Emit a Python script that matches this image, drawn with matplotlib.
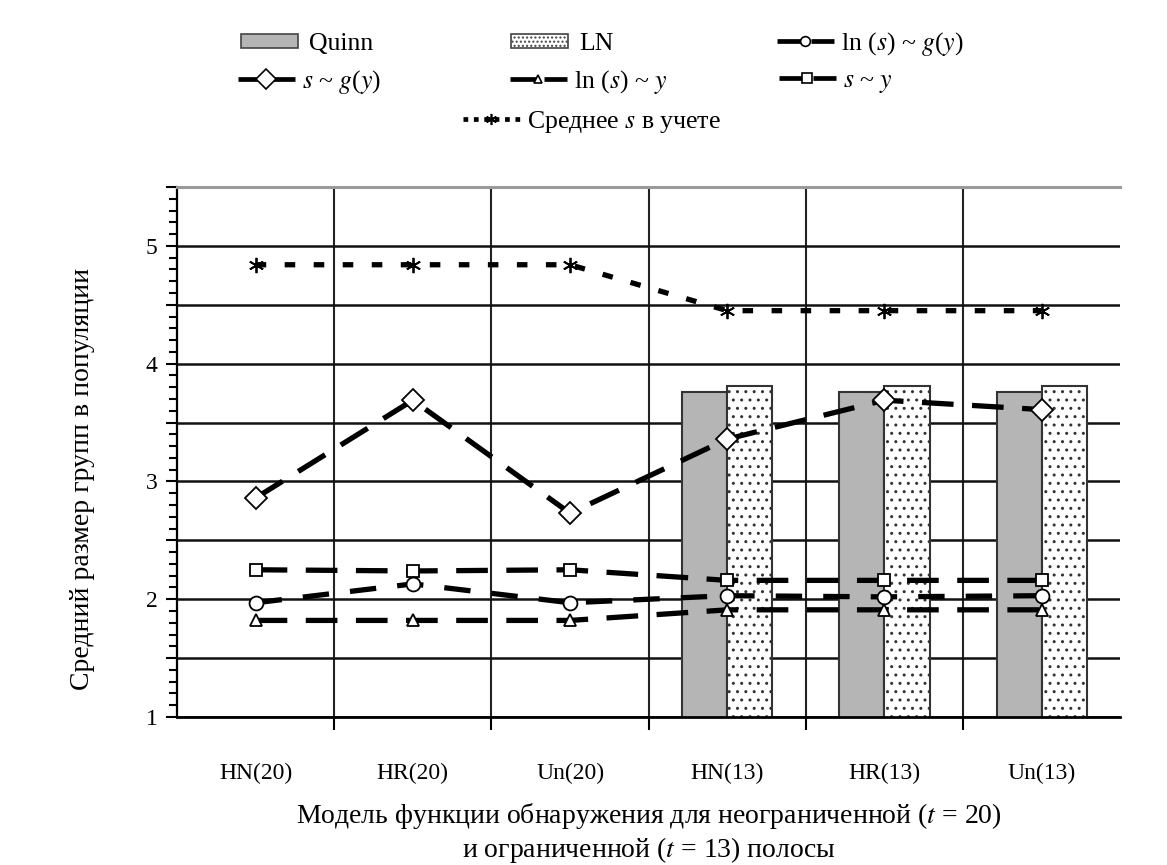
import numpy as np
import matplotlib
matplotlib.use("Agg")
import matplotlib.pyplot as plt
from matplotlib.patches import Patch
from matplotlib.lines import Line2D
from matplotlib.ticker import MultipleLocator, FuncFormatter, FixedLocator

plt.rcParams['font.family'] = ['Liberation Serif', 'DejaVu Serif']
plt.rcParams['mathtext.fontset'] = 'stix'
plt.rcParams['hatch.linewidth'] = 1.0
plt.rcParams['hatch.color'] = '#444444'

categories = ["HN(20)", "HR(20)", "Un(20)", "HN(13)", "HR(13)", "Un(13)"]
quinn = [np.nan, np.nan, np.nan, 3.76, 3.76, 3.76]
ln_bar = [np.nan, np.nan, np.nan, 3.81, 3.81, 3.81]
ln_s_gy = [1.97, 2.13, 1.97, 2.03, 2.02, 2.03]
s_gy = [2.86, 3.69, 2.73, 3.36, 3.69, 3.61]
ln_s_y = [1.82, 1.82, 1.82, 1.91, 1.91, 1.91]
s_y = [2.25, 2.24, 2.25, 2.16, 2.16, 2.16]
mean_s = [4.84, 4.84, 4.84, 4.45, 4.45, 4.45]

fig = plt.figure(figsize=(11.67, 8.65), dpi=100)
ax = fig.add_axes([0.1517, 0.1711, 0.8083, 0.6127])

x = np.arange(len(categories))
bw = 0.287
ax.bar(x - bw / 2, quinn, width=bw, color='#b5b5b5', edgecolor='#333333', linewidth=1.5, zorder=2)
ax.bar(x + bw / 2, ln_bar, width=bw, color='white', edgecolor='#333333', linewidth=1.5,
       hatch='..', zorder=2)

lw = 3.8
common = dict(color='black', linewidth=lw, markerfacecolor='white', markeredgecolor='black',
              markeredgewidth=1.3, zorder=4)
ax.plot(x, mean_s, linestyle=(0, (2.0, 3.5)), marker=(6, 2, 0), markersize=11, **common)
ax.plot(x, s_gy, linestyle=(0, (6, 3.5)), marker='D', markersize=11, **common)
ax.plot(x, s_y, linestyle=(0, (6, 3.5)), marker='s', markersize=9, **common)
ax.plot(x, ln_s_gy, linestyle=(0, (5, 4)), marker='o', markersize=10, **common)
ax.plot(x, ln_s_y, linestyle=(0, (6, 3.5)), marker='^', markersize=9, **common)

ax.set_xlim(-0.5, 5.5)
ax.set_ylim(1, 5.5)

ax.yaxis.set_major_locator(MultipleLocator(0.5))
ax.yaxis.set_minor_locator(MultipleLocator(0.1))
ax.yaxis.set_major_formatter(FuncFormatter(lambda v, p: f"{int(round(v))}" if abs(v - round(v)) < 1e-6 and v < 5.4 else ""))
ax.tick_params(axis='y', which='major', length=8, width=1.5, labelsize=17, pad=6, direction='out')
ax.tick_params(axis='y', which='minor', length=6, width=1.5, direction='out')

ax.set_xticks(x)
ax.set_xticklabels(categories)
ax.xaxis.set_minor_locator(FixedLocator([0.5, 1.5, 2.5, 3.5, 4.5]))
ax.tick_params(axis='x', which='major', length=0, labelsize=17, pad=33)
ax.tick_params(axis='x', which='minor', length=9, width=1.5, direction='out')

ax.grid(True, axis='y', which='major', color='#111111', linewidth=1.8, zorder=0)
ax.grid(True, axis='x', which='minor', color='#222222', linewidth=1.5, zorder=0)
ax.set_axisbelow(True)

ax.spines['right'].set_visible(False)
ax.spines['top'].set_color('#9a9a9a')
ax.spines['top'].set_linewidth(2.2)
ax.spines['left'].set_linewidth(1.6)
ax.spines['bottom'].set_linewidth(2.0)

ax.set_ylabel("Средний размер групп в популяции", fontsize=20)
ax.yaxis.set_label_coords(-0.087, 0.45)
ax.set_xlabel("Модель функции обнаружения для неограниченной ($t$ = 20)\nи ограниченной ($t$ = 13) полосы",
              fontsize=20, labelpad=12, linespacing=1.2)

def line_handle(ls, marker, ms):
    return Line2D([], [], color='black', linewidth=3.4, linestyle=ls, marker=marker, markersize=ms,
                  markerfacecolor='white', markeredgecolor='black', markeredgewidth=1.2)

solid_ish = (0, (6, 1.2))
entries = [
    (Patch(facecolor='#b5b5b5', edgecolor='#444444', linewidth=1.2), "Quinn", 241, 0.949, True),
    (Patch(facecolor='white', edgecolor='#444444', linewidth=1.2, hatch='....'), "LN", 511, 0.949, True),
    (line_handle(solid_ish, 'o', 7), "ln ($s$) ~ $g$($y$)", 777, 0.949, False),
    (line_handle(solid_ish, 'D', 10), "$s$ ~ $g$($y$)", 238, 0.905, False),
    (line_handle(solid_ish, '^', 6), "ln ($s$) ~ $y$", 510, 0.905, False),
    (line_handle(solid_ish, 's', 7), "$s$ ~ $y$", 779, 0.905, False),
    (line_handle((0, (1.0, 1.2)), (6, 2, 0), 8), "Среднее $s$ в учете", 463, 0.859, False),
]
for h, lab, px, ly, is_patch in entries:
    fig.legend(handles=[h], labels=[lab], loc='center left', bbox_to_anchor=(px / 1167, ly),
               frameon=False, fontsize=18.5, handlelength=2.2,
               handleheight=0.42 if is_patch else 0.7,
               handletextpad=0.45 if is_patch else 0.3, borderpad=0, borderaxespad=0)

fig.savefig("out.png", dpi=100)
